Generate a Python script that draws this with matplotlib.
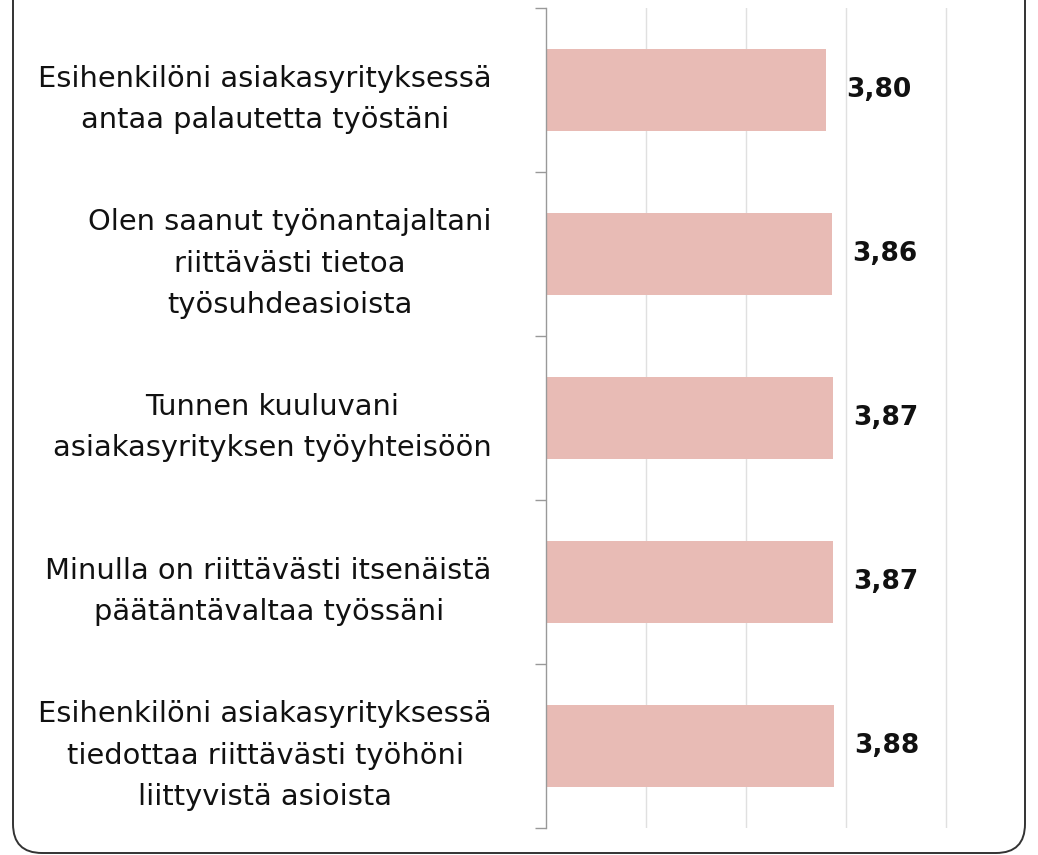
import matplotlib
matplotlib.use("Agg")
import matplotlib.pyplot as plt
from matplotlib.patches import FancyBboxPatch
from matplotlib.ticker import FixedLocator

labels = [
    "Esihenkilöni asiakasyrityksessä\nantaa palautetta työstäni",
    "Olen saanut työnantajaltani\nriittävästi tietoa\ntyösuhdeasioista",
    "Tunnen kuuluvani\nasiakasyrityksen työyhteisöön",
    "Minulla on riittävästi itsenäistä\npäätäntävaltaa työssäni",
    "Esihenkilöni asiakasyrityksessä\ntiedottaa riittävästi työhöni\nliittyvistä asioista",
]
values = [3.80, 3.86, 3.87, 3.87, 3.88]
value_text = ["3,80", "3,86", "3,87", "3,87", "3,88"]

W, H = 1038, 855
fig = plt.figure(figsize=(W / 100, H / 100), dpi=100)
fig.patch.set_facecolor("white")

# card outline, top edge falls outside the image
card = FancyBboxPatch((13 / W, 2 / H), (1025 - 13) / W, 1.2,
                      boxstyle="round,pad=0,rounding_size=0.028",
                      transform=fig.transFigure, fill=False,
                      edgecolor="#333333", linewidth=1.4, mutation_aspect=W / H)
fig.patches.append(card)

ax = fig.add_axes([546 / W, 1 - 828 / H, (950 - 546) / W, (828 - 8) / H])
y = list(range(len(values)))
bars = ax.barh(y, [v - 1 for v in values], left=1, height=0.5,
               color="#e8bbb5", zorder=2)

ax.set_xlim(1, 5.04)
ax.set_ylim(len(values) - 0.5, -0.5)
ax.set_xticks([2, 3, 4, 5])
ax.tick_params(axis="x", length=0, labelbottom=False)
ax.grid(axis="x", color="#e0e0e0", linewidth=1, zorder=0)

ax.set_yticks(y)
ax.set_yticklabels(labels, fontsize=20.8, multialignment="center",
                   linespacing=1.6, family="DejaVu Sans", color="#111111")
ax.yaxis.set_minor_locator(FixedLocator([i - 0.5 for i in range(len(values) + 1)]))
ax.tick_params(axis="y", which="major", length=0, pad=39)
ax.tick_params(axis="y", which="minor", length=8, color="#999999", width=1)

for s in ["top", "right", "bottom"]:
    ax.spines[s].set_visible(False)
ax.spines["left"].set_color("#999999")
ax.spines["left"].set_linewidth(1)

for b, t in zip(bars, value_text):
    ax.annotate(t, (b.get_x() + b.get_width(), b.get_y() + b.get_height() / 2),
                xytext=(20, 0), textcoords="offset pixels", va="center",
                ha="left", fontsize=19, fontweight="bold", color="#111111",
                annotation_clip=False)

fig.savefig("out.png", dpi=100)
